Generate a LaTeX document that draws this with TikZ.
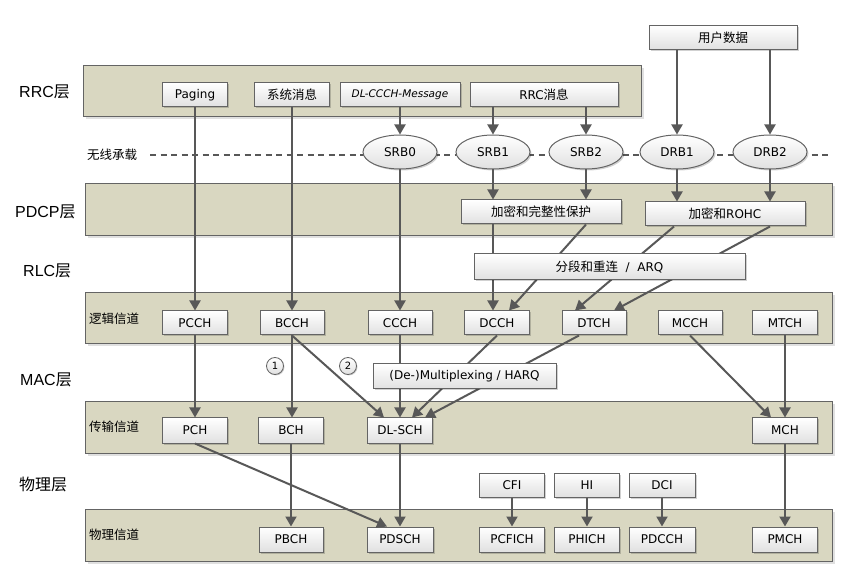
\documentclass[tikz,border=0pt]{standalone}
\usepackage{fontspec}
\setmainfont{Liberation Sans}
\newfontfamily\cjk{Noto Sans CJK SC}
\newfontfamily\boxfont{DejaVu Sans}
\usetikzlibrary{arrows.meta,shapes.geometric,shadows}
\definecolor{bandc}{RGB}{217,215,193}
\definecolor{edgec}{RGB}{100,100,100}
\definecolor{arrowc}{RGB}{88,88,88}
\newcommand\zh[1]{{\cjk\fontsize{12.5}{14}\selectfont #1}}
\begin{document}
\begin{tikzpicture}[x=1pt,y=-1pt,
  band/.style={draw=edgec,line width=1pt,fill=bandc,
    drop shadow={shadow xshift=2.5pt,shadow yshift=-2.5pt,fill=black,opacity=0.12}},
  chbox/.style={draw=edgec,line width=1pt,top color=white,bottom color=black!12,
    minimum height=24pt,inner sep=0pt,font=\boxfont\fontsize{12}{14}\selectfont,
    drop shadow={shadow xshift=1.5pt,shadow yshift=-1.5pt,fill=black,opacity=0.18}},
  bearer/.style={ellipse,draw=edgec,line width=1pt,top color=white,bottom color=black!12,
    minimum width=74pt,minimum height=34pt,inner sep=0pt,font=\boxfont\fontsize{12}{14}\selectfont,
    drop shadow={shadow xshift=1.5pt,shadow yshift=-1.5pt,fill=black,opacity=0.18}},
  numc/.style={circle,draw=edgec,line width=0.8pt,top color=white,bottom color=black!12,
    minimum size=17pt,inner sep=0pt,font=\boxfont\fontsize{10}{12}\selectfont,
    drop shadow={shadow xshift=1pt,shadow yshift=-1pt,fill=black,opacity=0.18}},
  layer/.style={anchor=west,inner sep=0pt,font=\fontsize{16}{18}\selectfont},
  blabel/.style={anchor=west,inner sep=0pt,font=\cjk\fontsize{12.5}{14}\selectfont},
  arr/.style={draw=arrowc,line width=2pt,-{Triangle[length=10pt,width=11pt]}},
  dline/.style={draw=arrowc,line width=2.2pt,dash pattern=on 6pt off 4.5pt}
]
\useasboundingbox (0,0) rectangle (844,577);

% bands
\path[band] (83,66) rectangle (641,117);
\path[band] (85,184) rectangle (832,236);
\path[band] (85,293) rectangle (832,344);
\path[band] (85,402) rectangle (832,453);
\path[band] (85,509) rectangle (832,561);

% layer labels
\node[layer] (lrrc) at (19,92) {RRC{\cjk 层}};
\node[layer] (lpdcp) at (15,212) {PDCP{\cjk 层}};
\node[layer] (lrlc) at (23,271) {RLC{\cjk 层}};
\node[layer] (lmac) at (20,380) {MAC{\cjk 层}};
\node[layer] (lphy) at (19,484) {{\cjk 物理层}};

\node[blabel] (tbear) at (87,155) {无线承载};
\node[blabel] (tlog) at (89,319) {逻辑信道};
\node[blabel] (ttr) at (89,427) {传输信道};
\node[blabel] (tphy) at (89,535) {物理信道};

% dashed radio bearer line
\coordinate (d0) at (150,155);
\coordinate (d1) at (828,155);
\draw[dline] (d0) -- (d1);

% RRC row
\node[chbox,minimum width=65pt] (paging) at (195,95) {Paging};
\node[chbox,minimum width=75pt] (sys) at (292,95) {\zh{系统消息}};
\node[chbox,minimum width=120pt] (dlccch) at (400,95) {\fontsize{10.5}{12}\selectfont\itshape DL-CCCH-Message};
\node[chbox,minimum width=148pt] (rrcmsg) at (544,95) {RRC\zh{消息}};
\node[chbox,minimum width=148pt] (user) at (723,37.5) {\zh{用户数据}};

% bearers
\node[bearer] (srb0) at (400,152) {SRB0};
\node[bearer] (srb1) at (493,152) {SRB1};
\node[bearer] (srb2) at (586,152) {SRB2};
\node[bearer] (drb1) at (677,152) {DRB1};
\node[bearer] (drb2) at (770,152) {DRB2};

% PDCP
\node[chbox,minimum width=160pt] (enc1) at (541,212) {\zh{加密和完整性保护}};
\node[chbox,minimum width=160pt] (enc2) at (725,214) {\zh{加密和}ROHC};

% logical channels
\node[chbox,minimum width=65pt] (pcch) at (195,323) {PCCH};
\node[chbox,minimum width=64pt] (bcch) at (292,323) {BCCH};
\node[chbox,minimum width=64pt] (ccch) at (400,323) {CCCH};
\node[chbox,minimum width=65pt] (dcch) at (497,323) {DCCH};
\node[chbox,minimum width=64pt] (dtch) at (594,323) {DTCH};
\node[chbox,minimum width=64pt] (mcch) at (690,323) {MCCH};
\node[chbox,minimum width=65pt] (mtch) at (785,323) {MTCH};

% transport channels
\node[chbox,minimum width=65pt,minimum height=25pt] (pch) at (195,430.5) {PCH};
\node[chbox,minimum width=65pt,minimum height=25pt] (bch) at (291,430.5) {BCH};
\node[chbox,minimum width=65pt,minimum height=25pt] (dlsch) at (400,430.5) {DL-SCH};
\node[chbox,minimum width=65pt,minimum height=25pt] (mch) at (785,430.5) {MCH};

% control info
\node[chbox,minimum width=65pt] (cfi) at (512,485) {CFI};
\node[chbox,minimum width=65pt] (hi) at (587,485) {HI};
\node[chbox,minimum width=66pt] (dci) at (662,485) {DCI};

% physical channels
\node[chbox,minimum width=64pt,minimum height=25pt] (pbch) at (291,539.5) {PBCH};
\node[chbox,minimum width=66pt,minimum height=25pt] (pdsch) at (400,539.5) {PDSCH};
\node[chbox,minimum width=65pt,minimum height=25pt] (pcfich) at (512,539.5) {PCFICH};
\node[chbox,minimum width=65pt,minimum height=25pt] (phich) at (587,539.5) {PHICH};
\node[chbox,minimum width=66pt,minimum height=25pt] (pdcch) at (662,539.5) {PDCCH};
\node[chbox,minimum width=65pt,minimum height=25pt] (pmch) at (785,539.5) {PMCH};

% connectors: RRC -> bearers
\draw[arr] (paging) -- (pcch);
\draw[arr] (sys) -- (bcch);
\draw[arr] (dlccch) -- (srb0);
\draw[arr] (rrcmsg.south -| srb1) -- (srb1.north);
\draw[arr] (rrcmsg.south -| srb2) -- (srb2.north);
\draw[arr] (user.south -| drb1) -- (drb1.north);
\draw[arr] (user.south -| drb2) -- (drb2.north);
\draw[arr] (srb0) -- (ccch);
% bearers -> PDCP
\draw[arr] (srb1.south) -- (srb1.south |- enc1.north);
\draw[arr] (srb2.south) -- (srb2.south |- enc1.north);
\draw[arr] (drb1.south) -- (drb1.south |- enc2.north);
\draw[arr] (drb2.south) -- (drb2.south |- enc2.north);
% PDCP -> logical channels
\draw[arr] (srb1.south |- enc1.south) -- (srb1.south |- dcch.north);
\draw[arr] (srb2.south |- enc1.south) -- ([xshift=12pt]dcch.north);
\draw[arr] ([xshift=-51pt]enc2.south) -- ([xshift=-19pt]dtch.north);
\draw[arr] (drb2.south |- enc2.south) -- ([xshift=20pt]dtch.north);
% logical -> transport
\draw[arr] (pcch) -- (pch);
\draw[arr] (bcch.south) -- (bcch.south |- bch.north);
\draw[arr] (bcch.south) -- ([xshift=-16pt]dlsch.north);
\draw[arr] (ccch) -- (dlsch);
\draw[arr] (dcch.south) -- ([xshift=12pt]dlsch.north);
\draw[arr] ([xshift=-15pt]dtch.south) -- ([xshift=25pt]dlsch.north);
\draw[arr] (mcch.south) -- ([xshift=-14pt]mch.north);
\draw[arr] (mtch) -- (mch);
% transport -> physical
\draw[arr] (pch.south) -- ([xshift=-13pt]pdsch.north);
\draw[arr] (bch) -- (pbch);
\draw[arr] (dlsch) -- (pdsch);
\draw[arr] (mch) -- (pmch);
\draw[arr] (cfi) -- (pcfich);
\draw[arr] (hi) -- (phich);
\draw[arr] (dci) -- (pdcch);

% boxes drawn over connectors
\node[chbox,minimum width=271pt,minimum height=26pt] (rlc) at (609.5,267) {\zh{分段和重连}\ \ /\ \ ARQ};
\node[chbox,minimum width=183pt,minimum height=25pt] (mux) at (464.5,376.5) {(De-)Multiplexing / HARQ};
\node[numc] (n1) at (275,366) {1};
\node[numc] (n2) at (348,366) {2};
\end{tikzpicture}
\end{document}
